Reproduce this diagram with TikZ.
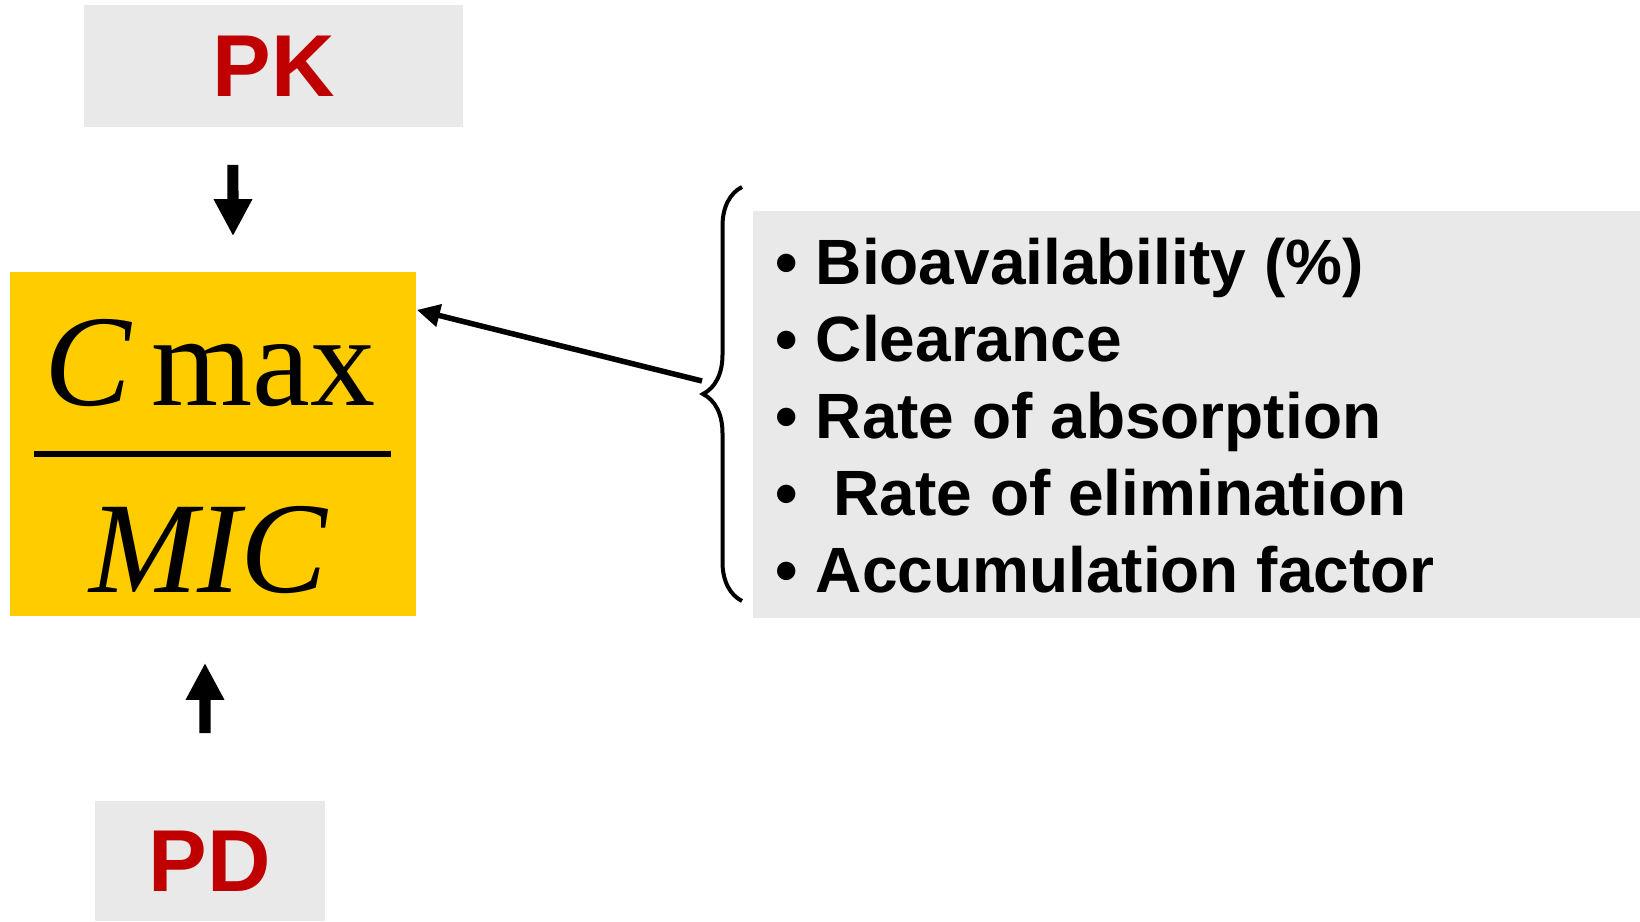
\documentclass[tikz,border=0pt]{standalone}
\usepackage{fontspec}
\setmainfont{Liberation Serif}
\setsansfont{Liberation Sans}
\usetikzlibrary{arrows.meta,decorations.pathreplacing}
\definecolor{boxgrey}{HTML}{E9E9E9}
\definecolor{pkred}{HTML}{C00000}
\definecolor{fracyellow}{HTML}{FFCC00}
\tikzset{
  greybox/.style={fill=boxgrey, inner sep=0pt},
  pklabel/.style={font=\sffamily\bfseries\fontsize{25}{30}\selectfont, text=pkred},
  fraclabel/.style={anchor=base, inner sep=0pt, font=\fontsize{37}{40}\selectfont},
  listitem/.style={anchor=base west, inner sep=0pt, font=\sffamily\bfseries\fontsize{18.2}{21}\selectfont},
  blockarrow/.style={-{Triangle[width=0.36cm,length=0.37cm]}, line width=0.11cm, black},
  thinarrow/.style={-{Triangle[width=0.22cm,length=0.23cm]}, line width=0.055cm, black}
}
\begin{document}
\begin{tikzpicture}[x=0.01cm, y=-0.01cm]
\useasboundingbox (0,0) rectangle (1640,921);
\node [greybox, pklabel, minimum width=3.79cm, minimum height=1.22cm] (pk) at (273.5,66) {PK};
\node [greybox, pklabel, minimum width=2.3cm, minimum height=1.2cm] (pd) at (210,861) {PD};
\node [fill=fracyellow, inner sep=0pt, minimum width=4.06cm, minimum height=3.44cm] (frac) at (213,444) {};
\node [fraclabel] (cmax) at (210,405) {\textit{C}\hspace{0.14em}max};
\node [fraclabel] (mic) at (209,592) {\textit{MIC}};
\draw [black, line width=0.06cm] (34,454) -- (391,454);

\node [greybox, minimum width=8.87cm, minimum height=4.07cm] (factors) at (1196.5,414.5) {};
\node [listitem] (item1) at (775,284) {• Bioavailability (\%)};
\node [listitem] (item2) at (775,361) {• Clearance};
\node [listitem] (item3) at (775,438) {• Rate of absorption};
\node [listitem] (item4) at (775,515) {•\ \ Rate of elimination};
\node [listitem] (item5) at (775,592) {• Accumulation factor};
\draw [black, decorate, decoration={brace, amplitude=0.39cm}, line width=0.04cm] (742,601) -- (742,187);
\coordinate (bracetip) at (702,381);

\draw [blockarrow, shorten <=0.37cm, shorten >=0.35cm] ([xshift=-0.405cm]pk.south) -- ([xshift=0.2cm]frac.north);
\draw [blockarrow, shorten <=0.67cm, shorten >=0.46cm] ([xshift=-0.05cm]pd.north) -- ([xshift=-0.08cm]frac.south);
\draw [thinarrow] (bracetip) -- ([yshift=1.34cm]frac.east);
\end{tikzpicture}
\end{document}
